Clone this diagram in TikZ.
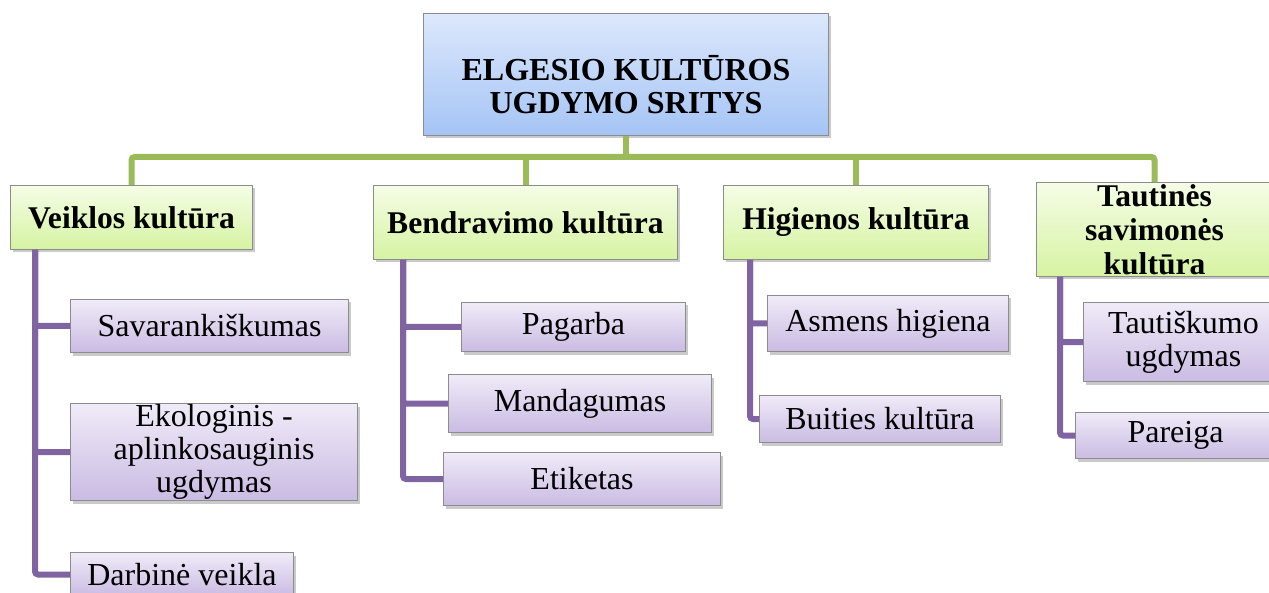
\documentclass[tikz,border=0pt]{standalone}
\usepackage{fontspec}
\setmainfont{Liberation Serif}
\usetikzlibrary{positioning,shadows}

\definecolor{titletop}{HTML}{DCE8FC}
\definecolor{titlebot}{HTML}{A5C4F5}
\definecolor{areatop}{HTML}{F5FDE6}
\definecolor{areabot}{HTML}{D6F3A2}
\definecolor{itemtop}{HTML}{F0EBF8}
\definecolor{itembot}{HTML}{CABBE3}
\definecolor{busgreen}{HTML}{9BBB59}
\definecolor{trunkpurple}{HTML}{8064A2}
\definecolor{edgegrey}{HTML}{8C8C8C}

\begin{document}
\begin{tikzpicture}[x=0.5pt, y=-0.5pt,
    box/.style={draw=edgegrey, line width=0.5pt, anchor=north west, inner sep=0pt, align=center,
        font=\fontsize{16}{16.5}\selectfont,
        drop shadow={shadow xshift=1.2pt, shadow yshift=-1.5pt, fill=black!60, opacity=0.35}},
    titlebox/.style={box, top color=titletop, bottom color=titlebot, font=\fontsize{16}{16.5}\selectfont\bfseries},
    areabox/.style={box, top color=areatop, bottom color=areabot, font=\fontsize{15.8}{17}\selectfont\bfseries},
    itembox/.style={box, top color=itemtop, bottom color=itembot},
    busline/.style={draw=busgreen, line width=3pt, rounded corners=1.5pt},
    trunkline/.style={draw=trunkpurple, line width=3pt, rounded corners=1.5pt}]
    \useasboundingbox (0,0) rectangle (1269,593);
    \clip (0,0) rectangle (1269,593);

    % top
    \node[titlebox, minimum width=202.5pt, minimum height=61pt] (title) at (423,13)
        {\mbox{}\\[6.5pt]ELGESIO KULTŪROS\\UGDYMO SRITYS};

    % areas
    \node[areabox, minimum width=121pt, minimum height=32pt] (veik) at (10,185) {Veiklos kultūra};
    \node[areabox, minimum width=152pt, minimum height=37pt] (bend) at (373,185) {Bendravimo kultūra};
    \node[areabox, minimum width=132.5pt, minimum height=37pt] (hig) at (723,185) {Higienos kultūra};
    \node[areabox, minimum width=118pt, minimum height=47pt] (taut) at (1036,182) {Tautinės\\savimonės\\kultūra};

    % items
    \node[itembox, minimum width=139pt, minimum height=26.5pt] (sav) at (70,299) {Savarankiškumas};
    \node[itembox, minimum width=143.5pt, minimum height=48.5pt] (eko) at (70,403) {Ekologinis -\\aplinkosauginis\\ugdymas};
    \node[itembox, minimum width=111.5pt, minimum height=22pt] (darb) at (70,552) {Darbinė veikla};
    \node[itembox, minimum width=112pt, minimum height=24.5pt] (pag) at (461,302) {Pagarba};
    \node[itembox, minimum width=131.5pt, minimum height=29pt] (mand) at (448,374) {Mandagumas};
    \node[itembox, minimum width=138.5pt, minimum height=26.5pt] (etik) at (443,452) {Etiketas};
    \node[itembox, minimum width=120.5pt, minimum height=28pt] (asm) at (767,295) {Asmens higiena};
    \node[itembox, minimum width=120.5pt, minimum height=23.5pt] (buit) at (759,395) {Buities kultūra};
    \node[itembox, minimum width=100pt, minimum height=39.5pt] (tautisk) at (1083,302) {Tautiškumo\\ugdymas};
    \node[itembox, minimum width=100pt, minimum height=23pt] (par) at (1075,412) {Pareiga};

    % green bus
    \coordinate (bus) at (625,157);
    \path[busline] (title.south) -- (title.south |- bus);
    \path[busline] (veik.north) |- (bus) -| (taut.north);
    \path[busline] (bend.north) -- (bend.north |- bus);
    \path[busline] (hig.north) -- (hig.north |- bus);

    % purple trunks
    \coordinate (tv) at ([xshift=12.5pt]veik.south west);
    \coordinate (tb) at ([xshift=15pt]bend.south west);
    \coordinate (th) at ([xshift=13.5pt]hig.south west);
    \coordinate (tt) at ([xshift=12pt]taut.south west);
    \foreach \from/\to in {tv/sav, tv/eko, tv/darb, tb/pag, tb/mand, tb/etik,
                           th/asm, th/buit, tt/tautisk, tt/par}
        \path[trunkline] (\from) |- (\to.west);
\end{tikzpicture}
\end{document}
